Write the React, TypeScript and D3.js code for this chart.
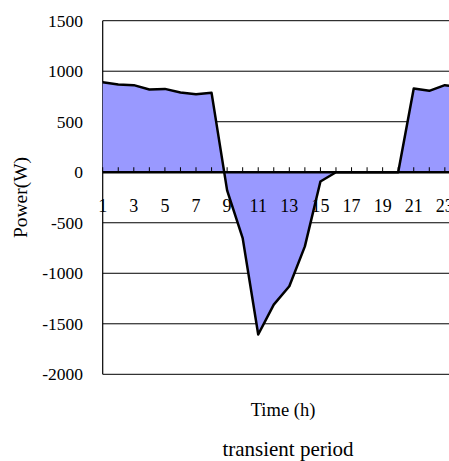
import React from 'react';
import * as d3 from 'd3';

// hours 1..24 and power readings (W)
const hours = [1, 2, 3, 4, 5, 6, 7, 8, 9, 10, 11, 12, 13, 14, 15, 16, 17, 18, 19, 20, 21, 22, 23, 24];
const power = [890, 868, 862, 819, 825, 790, 773, 786, -180, -652, -1606, -1310, -1129, -734, -92, 0, 0, 0, 0, 0, 829, 806, 862, 840];
const yTicks = [1500, 1000, 500, 0, -500, -1000, -1500, -2000];
const xLabels = [1, 3, 5, 7, 9, 11, 13, 15, 17, 19, 21, 23];

const W = 449;
const H = 461;
const serif = '"Liberation Serif", "Times New Roman", serif';

export default function App() {
  const x = d3.scaleLinear().domain([1, 24]).range([102.7, 460.4]);
  const y = d3.scaleLinear().domain([-2000, 1500]).range([374.3, 20.7]);
  const left = x(1);
  const right = x(24);

  const pts = hours.map((h, i) => [h, power[i]] as [number, number]);
  const area = d3.area<[number, number]>()
    .x(d => x(d[0]))
    .y0(y(0))
    .y1(d => y(d[1]));
  const line = d3.line<[number, number]>()
    .x(d => x(d[0]))
    .y(d => y(d[1]));

  return (
    <svg width={W} height={H} style={{ position: 'absolute', left: 0, top: 0, background: '#fff' }}>
      {/* gridlines */}
      {yTicks.filter(t => t !== 0).map(t => (
        <line key={t} x1={left} x2={right} y1={y(t)} y2={y(t)} stroke="#000" strokeWidth={1} />
      ))}
      <line x1={left} x2={left} y1={y(1500)} y2={y(-2000)} stroke="#000" strokeWidth={1.2} />

      <path d={area(pts) ?? ''} fill="#9999ff" />

      {/* zero axis and category ticks */}
      <line x1={left} x2={right} y1={y(0)} y2={y(0)} stroke="#000" strokeWidth={2.5} />
      {hours.map(h => (
        <line key={h} x1={x(h)} x2={x(h)} y1={y(0)} y2={y(0) - 5} stroke="#000" strokeWidth={1} />
      ))}

      {xLabels.map(h => (
        <text key={h} x={x(h)} y={212} textAnchor="middle" fontFamily={serif} fontSize={18}>{h}</text>
      ))}

      <path d={line(pts) ?? ''} fill="none" stroke="#000" strokeWidth={2.5} strokeLinejoin="round" />

      {yTicks.map(t => (
        <text key={t} x={83} y={y(t) + 6} textAnchor="end" fontFamily={serif} fontSize={17.5}>{t}</text>
      ))}

      <text transform={`translate(27,${(y(1500) + y(-2000)) / 2}) rotate(-90)`} textAnchor="middle" fontFamily={serif} fontSize={19.5}>Power(W)</text>
      <text x={283} y={416} textAnchor="middle" fontFamily={serif} fontSize={18.5}>Time (h)</text>
      <text x={288} y={456} textAnchor="middle" fontFamily={serif} fontSize={21}>transient period</text>
    </svg>
  );
}
